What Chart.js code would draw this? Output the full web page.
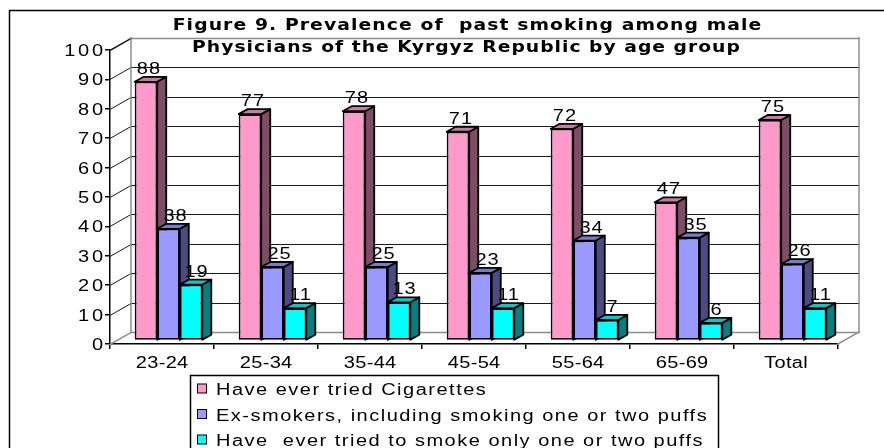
<!DOCTYPE html>
<html>
<head>
<meta charset="utf-8">
<script src="https://cdn.jsdelivr.net/npm/chart.js@4.4.1/dist/chart.umd.min.js"></script>
<style>
  html, body { margin: 0; padding: 0; background: #fff; }
  #wrap { width: 884px; height: 448px; }
</style>
</head>
<body>
<div id="wrap"><canvas id="chart" width="884" height="448"></canvas></div>
<script>
// Prevalence of past smoking among male physicians, by age group (%)
const categories = ['23-24', '25-34', '35-44', '45-54', '55-64', '65-69', 'Total'];
const everTried  = [88, 77, 78, 71, 72, 47, 75];
const exSmokers  = [38, 25, 25, 23, 34, 35, 26];
const puffsOnly  = [19, 11, 13, 11, 7, 6, 11];
const seriesNames = [
  'Have ever tried Cigarettes',
  'Ex-smokers, including smoking one or two puffs',
  'Have  ever tried to smoke only one or two puffs'
];
const yTicks = [0, 10, 20, 30, 40, 50, 60, 70, 80, 90, 100];
const titleLines = [
  'Figure 9. Prevalence of  past smoking among male',
  'Physicians of the Kyrgyz Republic by age group'
];

const REG = '"Liberation Sans", Arial, sans-serif';
const BOLD = '"DejaVu Sans", Verdana, sans-serif';
const SX = 1.25;                     // wide letterforms

// perspective offsets: back wall relative to the front plane, bar front and bar depth
const WALL = { dx: 21, dy: -12 };
const BAR = { ox: 6.5, oy: -3.5, dx: 9, dy: -5 };
const OUTLINE = 1.8;

const shades = [
  { front: '#FF99CC', top: '#CC7AA3', side: '#804C66' },
  { front: '#9999FF', top: '#7A7ACC', side: '#4C4C80' },
  { front: '#00FFFF', top: '#00CCCC', side: '#008080' }
];
const labelShiftX = [2.5, 6.5, 5];

function line(ctx, x1, y1, x2, y2) {
  ctx.beginPath(); ctx.moveTo(x1, y1); ctx.lineTo(x2, y2); ctx.stroke();
}

// text drawn with a horizontal stretch and optional tracking
function wideText(ctx, str, x, y, align, font, spacing, sx = SX) {
  ctx.save();
  if (align === 'center') x += spacing / 2;
  if (align === 'right') x += spacing;
  ctx.translate(x, y);
  ctx.scale(sx, 1);
  ctx.font = font;
  ctx.letterSpacing = (spacing / sx) + 'px';
  ctx.textAlign = align;
  ctx.textBaseline = 'alphabetic';
  ctx.fillStyle = '#000';
  ctx.fillText(str, 0, 0);
  ctx.restore();
}

function drawDepth(ctx, bar, s) {
  const { dx, dy } = BAR;
  const p = bar.getProps(['x', 'y', 'base', 'width'], true);
  const xl = p.x - p.width / 2, xr = p.x + p.width / 2;
  ctx.beginPath();
  ctx.moveTo(xr, p.y); ctx.lineTo(xr + dx, p.y + dy);
  ctx.lineTo(xr + dx, p.base + dy); ctx.lineTo(xr, p.base);
  ctx.closePath();
  ctx.fillStyle = s.side; ctx.fill(); ctx.stroke();
  ctx.beginPath();
  ctx.moveTo(xl, p.y); ctx.lineTo(xl + dx, p.y + dy);
  ctx.lineTo(xr + dx, p.y + dy); ctx.lineTo(xr, p.y);
  ctx.closePath();
  ctx.fillStyle = s.top; ctx.fill(); ctx.stroke();
}

const box3d = {
  id: 'box3d',
  beforeDraw(chart) {
    const ctx = chart.ctx;
    ctx.save();
    ctx.fillStyle = '#fff';
    ctx.fillRect(0, 0, chart.width, chart.height);
    ctx.restore();
  },
  beforeDatasetsDraw(chart) {
    const ctx = chart.ctx, a = chart.chartArea, y = chart.scales.y;
    const { dx, dy } = WALL;
    ctx.save();
    ctx.lineCap = 'square';
    // back wall gridlines and side-wall diagonals
    yTicks.forEach(v => {
      const py = Math.round(y.getPixelForValue(v)) + 0.5;
      const edge = (v === yTicks[0] || v === yTicks[yTicks.length - 1]);
      ctx.strokeStyle = edge ? '#8c8c8c' : '#1a1a1a';
      ctx.lineWidth = edge ? 1.5 : 1;
      line(ctx, a.left + dx, py + dy, a.right + dx, py + dy);
      ctx.strokeStyle = v === yTicks[0] ? '#8c8c8c' : '#1a1a1a';
      line(ctx, a.left, py, a.left + dx, py + dy);
    });
    ctx.strokeStyle = '#8c8c8c';
    ctx.lineWidth = 1.5;
    const top = y.getPixelForValue(yTicks[yTicks.length - 1]) + dy;
    const bot = y.getPixelForValue(yTicks[0]) + dy;
    line(ctx, a.left + dx, top, a.left + dx, bot);
    line(ctx, a.right + dx, top, a.right + dx, bot);
    line(ctx, a.right, a.bottom, a.right + dx, a.bottom + dy);
    ctx.restore();
  },
  // bars are painted below, series by series from first to last
  beforeDatasetDraw() { return false; },
  afterDatasetsDraw(chart) {
    const ctx = chart.ctx;
    ctx.save();
    ctx.translate(BAR.ox, BAR.oy);
    chart.data.datasets.forEach((ds, i) => {
      chart.getDatasetMeta(i).data.forEach(bar => {
        bar.draw(ctx, chart.chartArea);
        ctx.save();
        ctx.lineWidth = OUTLINE;
        ctx.lineJoin = 'round';
        ctx.strokeStyle = '#000';
        drawDepth(ctx, bar, shades[i]);
        ctx.restore();
      });
    });
    // value labels
    chart.data.datasets.forEach((ds, i) => {
      chart.getDatasetMeta(i).data.forEach((bar, j) => {
        const p = bar.getProps(['x', 'y'], true);
        wideText(ctx, String(ds.data[j]), p.x + labelShiftX[i], p.y - 8, 'center', '16px ' + REG, 1);
      });
    });
    ctx.restore();
  },
  afterDraw(chart) {
    const ctx = chart.ctx;
    const xs = chart.scales.x, ys = chart.scales.y;
    // axis tick labels
    yTicks.forEach(v => {
      wideText(ctx, String(v), 103, ys.getPixelForValue(v) + 6, 'right', '16px ' + REG, 2.7);
    });
    categories.forEach((c, i) => {
      wideText(ctx, c, xs.getPixelForTick(i), 368, 'center', '16px ' + REG, 0.3);
    });
    // title
    wideText(ctx, titleLines[0], 467, 30, 'center', 'bold 15px ' + BOLD, 1.1);
    wideText(ctx, titleLines[1], 466, 52, 'center', 'bold 15px ' + BOLD, 1.0);
    // legend
    ctx.save();
    ctx.lineWidth = 1.5;
    ctx.strokeStyle = '#000';
    ctx.strokeRect(190.5, 375.5, 528, 120);
    seriesNames.forEach((name, i) => {
      const cy = 389 + i * 25.5;
      ctx.fillStyle = shades[i].front;
      ctx.fillRect(197.5, cy - 5, 9, 9);
      ctx.lineWidth = 1;
      ctx.strokeRect(197.5, cy - 5, 9, 9);
      wideText(ctx, name, 216, cy + 6, 'left', '16px ' + REG, 1.5);
    });
    // outer frame
    ctx.lineWidth = 1.5;
    ctx.strokeRect(9.5, 10.5, 900, 500);
    ctx.restore();
  }
};

const mk = (data, i) => ({
  label: seriesNames[i],
  data,
  backgroundColor: shades[i].front,
  borderColor: '#000',
  borderWidth: OUTLINE,
  borderSkipped: false
});

new Chart(document.getElementById('chart'), {
  type: 'bar',
  data: {
    labels: categories,
    datasets: [mk(everTried, 0), mk(exSmokers, 1), mk(puffsOnly, 2)]
  },
  options: {
    responsive: false,
    animation: false,
    layout: { padding: { left: 0, top: 50, right: 46, bottom: 0 } },
    datasets: { bar: { categoryPercentage: 0.65, barPercentage: 1.0 } },
    plugins: { legend: { display: false }, title: { display: false }, tooltip: { enabled: false } },
    scales: {
      x: {
        afterFit(s) { s.height = 104; },
        grid: { offset: true, drawOnChartArea: false, tickLength: 5, color: '#000', lineWidth: 1.5 },
        border: { display: true, color: '#000', width: 1.5 },
        ticks: { display: false }
      },
      y: {
        min: 0, max: 100,
        afterFit(s) { s.width = 110; },
        afterBuildTicks(s) { s.ticks = yTicks.map(v => ({ value: v })); },
        grid: { drawOnChartArea: false, tickLength: 5, color: '#000', lineWidth: 1.5 },
        border: { display: true, color: '#000', width: 1.5 },
        ticks: { display: false }
      }
    }
  },
  plugins: [box3d]
});
</script>
</body>
</html>
